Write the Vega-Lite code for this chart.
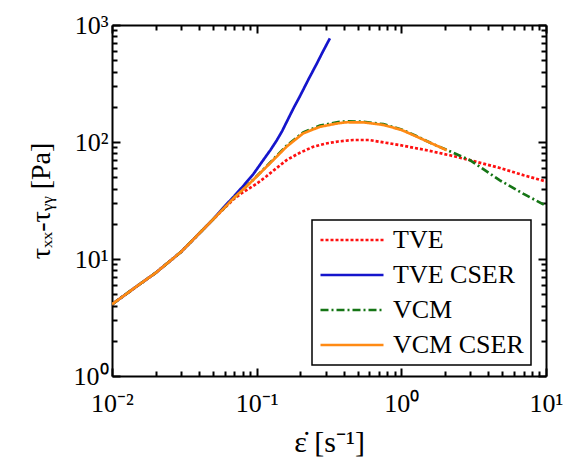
{
  "$schema": "https://vega.github.io/schema/vega-lite/v6.json",
  "width": 434,
  "height": 351,
  "autosize": "none",
  "padding": {"left": 112, "top": 25, "right": 27, "bottom": 97},
  "config": {
    "view": {"stroke": null},
    "font": "Liberation Serif",
    "legend": {
      "orient": "none",
      "legendX": 200,
      "legendY": 195,
      "title": null,
      "symbolType": "stroke",
      "symbolSize": 3969,
      "symbolStrokeWidth": 2.5,
      "labelFont": "Liberation Serif",
      "labelFontSize": 26,
      "labelColor": "black",
      "labelOffset": 8,
      "rowPadding": 9,
      "padding": 7,
      "strokeColor": "black",
      "strokeWidth": 1.5,
      "fillColor": "white",
      "clipHeight": 26
    }
  },
  "data": {"values": [
    {"s": "TVE", "x": 0.01, "y": 4.1}, {"s": "TVE", "x": 0.015, "y": 5.9}, {"s": "TVE", "x": 0.02, "y": 7.6}, {"s": "TVE", "x": 0.03, "y": 11.5}, {"s": "TVE", "x": 0.04, "y": 16.5}, {"s": "TVE", "x": 0.05, "y": 21.8}, {"s": "TVE", "x": 0.06, "y": 27.3}, {"s": "TVE", "x": 0.07, "y": 32.8}, {"s": "TVE", "x": 0.08, "y": 37}, {"s": "TVE", "x": 0.09, "y": 40.5}, {"s": "TVE", "x": 0.1, "y": 44}, {"s": "TVE", "x": 0.117, "y": 51}, {"s": "TVE", "x": 0.14, "y": 61}, {"s": "TVE", "x": 0.161, "y": 70}, {"s": "TVE", "x": 0.199, "y": 81}, {"s": "TVE", "x": 0.246, "y": 91}, {"s": "TVE", "x": 0.3, "y": 97}, {"s": "TVE", "x": 0.366, "y": 101}, {"s": "TVE", "x": 0.466, "y": 104}, {"s": "TVE", "x": 0.6, "y": 104}, {"s": "TVE", "x": 0.98, "y": 94}, {"s": "TVE", "x": 1.5, "y": 85}, {"s": "TVE", "x": 2.17, "y": 77}, {"s": "TVE", "x": 2.83, "y": 71}, {"s": "TVE", "x": 4.8, "y": 60}, {"s": "TVE", "x": 7, "y": 52}, {"s": "TVE", "x": 10, "y": 46},
    {"s": "TVE CSER", "x": 0.01, "y": 4.1}, {"s": "TVE CSER", "x": 0.015, "y": 5.9}, {"s": "TVE CSER", "x": 0.02, "y": 7.6}, {"s": "TVE CSER", "x": 0.03, "y": 11.5}, {"s": "TVE CSER", "x": 0.04, "y": 16.5}, {"s": "TVE CSER", "x": 0.05, "y": 21.8}, {"s": "TVE CSER", "x": 0.06, "y": 28.2}, {"s": "TVE CSER", "x": 0.07, "y": 34.5}, {"s": "TVE CSER", "x": 0.08, "y": 41.5}, {"s": "TVE CSER", "x": 0.0947, "y": 53}, {"s": "TVE CSER", "x": 0.111, "y": 70}, {"s": "TVE CSER", "x": 0.125, "y": 86}, {"s": "TVE CSER", "x": 0.1375, "y": 103}, {"s": "TVE CSER", "x": 0.15, "y": 124}, {"s": "TVE CSER", "x": 0.161, "y": 148}, {"s": "TVE CSER", "x": 0.18, "y": 195}, {"s": "TVE CSER", "x": 0.199, "y": 246}, {"s": "TVE CSER", "x": 0.23, "y": 350}, {"s": "TVE CSER", "x": 0.26, "y": 466}, {"s": "TVE CSER", "x": 0.29, "y": 608}, {"s": "TVE CSER", "x": 0.321, "y": 770},
    {"s": "VCM", "x": 0.01, "y": 4.1}, {"s": "VCM", "x": 0.015, "y": 5.9}, {"s": "VCM", "x": 0.02, "y": 7.6}, {"s": "VCM", "x": 0.03, "y": 11.5}, {"s": "VCM", "x": 0.04, "y": 16.5}, {"s": "VCM", "x": 0.05, "y": 21.8}, {"s": "VCM", "x": 0.06, "y": 27.5}, {"s": "VCM", "x": 0.07, "y": 33.5}, {"s": "VCM", "x": 0.08, "y": 39}, {"s": "VCM", "x": 0.0947, "y": 47.5}, {"s": "VCM", "x": 0.1236, "y": 66.5}, {"s": "VCM", "x": 0.161, "y": 93}, {"s": "VCM", "x": 0.21, "y": 121}, {"s": "VCM", "x": 0.274, "y": 138}, {"s": "VCM", "x": 0.366, "y": 148}, {"s": "VCM", "x": 0.42, "y": 150}, {"s": "VCM", "x": 0.55, "y": 149}, {"s": "VCM", "x": 0.75, "y": 142}, {"s": "VCM", "x": 1.0, "y": 128}, {"s": "VCM", "x": 1.28, "y": 112}, {"s": "VCM", "x": 1.6, "y": 98}, {"s": "VCM", "x": 2.06, "y": 85.5}, {"s": "VCM", "x": 2.98, "y": 70}, {"s": "VCM", "x": 4.8, "y": 47}, {"s": "VCM", "x": 7, "y": 36}, {"s": "VCM", "x": 10, "y": 28.5},
    {"s": "VCM CSER", "x": 0.01, "y": 4.1}, {"s": "VCM CSER", "x": 0.015, "y": 5.9}, {"s": "VCM CSER", "x": 0.02, "y": 7.6}, {"s": "VCM CSER", "x": 0.03, "y": 11.5}, {"s": "VCM CSER", "x": 0.04, "y": 16.5}, {"s": "VCM CSER", "x": 0.05, "y": 21.8}, {"s": "VCM CSER", "x": 0.06, "y": 27.5}, {"s": "VCM CSER", "x": 0.07, "y": 33.5}, {"s": "VCM CSER", "x": 0.08, "y": 39}, {"s": "VCM CSER", "x": 0.0947, "y": 47.4}, {"s": "VCM CSER", "x": 0.1236, "y": 65.7}, {"s": "VCM CSER", "x": 0.161, "y": 91.2}, {"s": "VCM CSER", "x": 0.21, "y": 118.6}, {"s": "VCM CSER", "x": 0.274, "y": 135}, {"s": "VCM CSER", "x": 0.366, "y": 144.6}, {"s": "VCM CSER", "x": 0.42, "y": 147.5}, {"s": "VCM CSER", "x": 0.55, "y": 147}, {"s": "VCM CSER", "x": 0.75, "y": 140}, {"s": "VCM CSER", "x": 1.0, "y": 127}, {"s": "VCM CSER", "x": 1.28, "y": 111}, {"s": "VCM CSER", "x": 1.6, "y": 98}, {"s": "VCM CSER", "x": 2.06, "y": 85}
  ]},
  "layer": [
    {
      "mark": {"type": "line", "strokeWidth": 2.7, "clip": true},
      "encoding": {
        "x": {
          "field": "x", "type": "quantitative",
          "scale": {"type": "log", "domain": [0.01, 10]},
          "axis": {
            "orient": "bottom",
            "values": [0.01,0.02,0.03,0.04,0.05,0.06,0.07,0.08,0.09,0.1,0.2,0.3,0.4,0.5,0.6,0.7,0.8,0.9,1,2,3,4,5,6,7,8,9,10],
            "labelExpr": "datum.value == 0.01 ? '10⁻²' : datum.value == 0.1 ? '10⁻¹' : datum.value == 1 ? '10⁰' : datum.value == 10 ? '10¹' : ''",
            "tickSize": {"condition": {"test": "indexof([0.01,0.1,1,10], datum.value) >= 0", "value": -8}, "value": -5},
            "tickWidth": 2, "tickColor": "black",
            "domainColor": "black", "domainWidth": 2,
            "labelFont": "Liberation Serif", "labelFontSize": 26, "labelColor": "black",
            "labelPadding": 22, "labelFlush": false, "labelOverlap": false,
            "grid": false,
            "title": "ε̇ [s⁻¹]",
            "titleFont": "Liberation Serif", "titleFontSize": 30, "titleFontWeight": "normal", "titleColor": "black",
            "titlePadding": 8
          }
        },
        "y": {
          "field": "y", "type": "quantitative",
          "scale": {"type": "log", "domain": [1, 1000]},
          "axis": {
            "orient": "left",
            "values": [1,2,3,4,5,6,7,8,9,10,20,30,40,50,60,70,80,90,100,200,300,400,500,600,700,800,900,1000],
            "labelExpr": "datum.value == 1 ? '10⁰' : datum.value == 10 ? '10¹' : datum.value == 100 ? '10²' : datum.value == 1000 ? '10³' : ''",
            "tickSize": {"condition": {"test": "indexof([1,10,100,1000], datum.value) >= 0", "value": -8}, "value": -5},
            "tickWidth": 2, "tickColor": "black",
            "domainColor": "black", "domainWidth": 2,
            "labelFont": "Liberation Serif", "labelFontSize": 26, "labelColor": "black",
            "labelPadding": 12, "labelFlush": false, "labelOverlap": false,
            "grid": false,
            "title": "τₓₓ-τᵧᵧ [Pa]",
            "titleFont": "Liberation Serif", "titleFontSize": 28, "titleFontWeight": "normal", "titleColor": "black",
            "titlePadding": 18
          }
        },
        "color": {
          "field": "s", "type": "nominal",
          "scale": {"domain": ["TVE", "TVE CSER", "VCM", "VCM CSER"], "range": ["#ff1010", "#1515cc", "#157515", "#ff8a14"]}
        },
        "strokeDash": {
          "field": "s", "type": "nominal",
          "scale": {"domain": ["TVE", "TVE CSER", "VCM", "VCM CSER"], "range": [[3, 2], [1, 0], [8, 3, 2, 3], [1, 0]]}
        }
      }
    },
    {
      "mark": {"type": "line", "opacity": 0},
      "encoding": {
        "x": {
          "field": "x", "type": "quantitative",
          "scale": {"type": "log", "domain": [0.01, 10]},
          "axis": {
            "orient": "top",
            "values": [0.01,0.02,0.03,0.04,0.05,0.06,0.07,0.08,0.09,0.1,0.2,0.3,0.4,0.5,0.6,0.7,0.8,0.9,1,2,3,4,5,6,7,8,9,10],
            "labels": false,
            "tickSize": {"condition": {"test": "indexof([0.01,0.1,1,10], datum.value) >= 0", "value": -8}, "value": -5},
            "tickWidth": 2, "tickColor": "black",
            "domainColor": "black", "domainWidth": 2,
            "grid": false, "title": null
          }
        },
        "y": {
          "field": "y", "type": "quantitative",
          "scale": {"type": "log", "domain": [1, 1000]},
          "axis": {
            "orient": "right",
            "values": [1,2,3,4,5,6,7,8,9,10,20,30,40,50,60,70,80,90,100,200,300,400,500,600,700,800,900,1000],
            "labels": false,
            "tickSize": {"condition": {"test": "indexof([1,10,100,1000], datum.value) >= 0", "value": -8}, "value": -5},
            "tickWidth": 2, "tickColor": "black",
            "domainColor": "black", "domainWidth": 2,
            "grid": false, "title": null
          }
        },
        "detail": {"field": "s", "type": "nominal"}
      }
    }
  ],
  "resolve": {"scale": {"x": "independent", "y": "independent"}}
}
